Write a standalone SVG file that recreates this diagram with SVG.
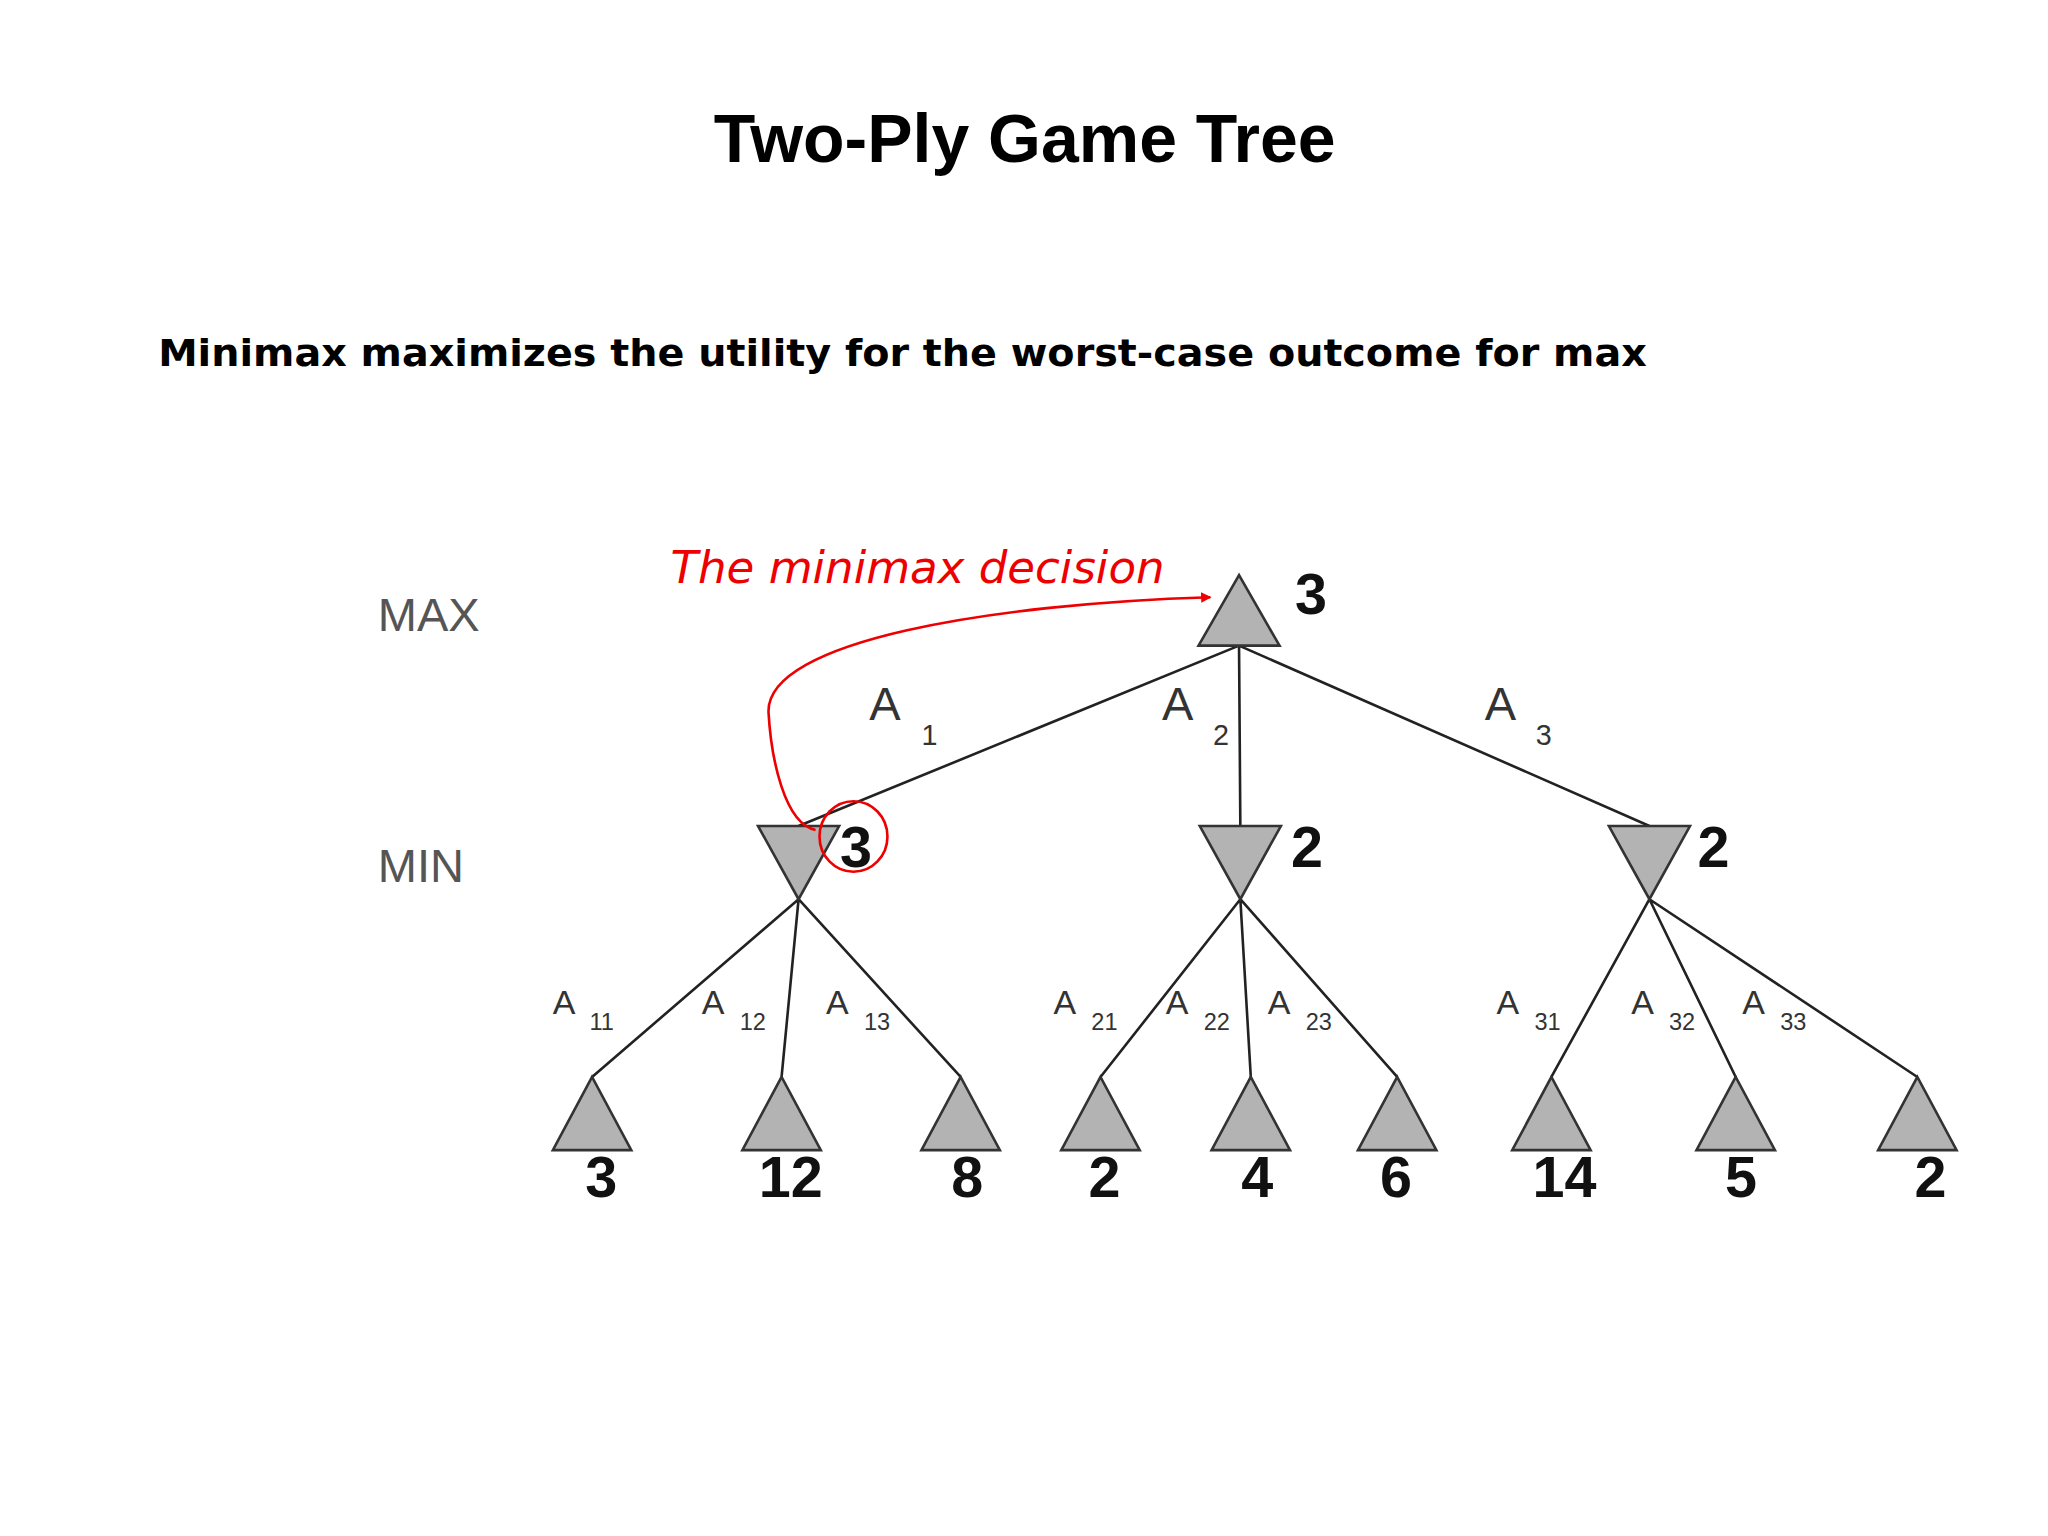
<svg xmlns="http://www.w3.org/2000/svg" width="2048" height="1536" viewBox="0 0 2048 1536">
<style>
.tri{fill:#b3b3b3;stroke:#333;stroke-width:2}
.edge{stroke:#222;stroke-width:2;fill:none}
.lab{font-family:"Liberation Sans",Arial,sans-serif;fill:#333}
.val{font-family:"Liberation Sans",Arial,sans-serif;font-weight:bold;fill:#111;font-size:44px;text-anchor:middle}
.side{font-family:"Liberation Sans",Arial,sans-serif;fill:#555;font-size:36px}
</style>
<defs><marker id="ah" markerWidth="8" markerHeight="8" refX="7" refY="4" orient="auto" markerUnits="userSpaceOnUse"><path d="M0,0 L8,4 L0,8 z" fill="#e00"/></marker></defs>
<rect width="2048" height="1536" fill="#fff"/>
<g transform="scale(1.307)">
<text x="784" y="124" text-anchor="middle" font-family="Liberation Sans,Arial,sans-serif" font-weight="bold" font-size="52" fill="#000">Two-Ply Game Tree</text>
<text x="121" y="280" font-family="DejaVu Sans,Verdana,sans-serif" font-weight="bold" font-size="29" fill="#000" textLength="1139" lengthAdjust="spacingAndGlyphs">Minimax maximizes the utility for the worst-case outcome for max</text>
<text class="side" x="289" y="483">MAX</text>
<text class="side" x="289" y="675">MIN</text>
<g id="connectors">
<path class="edge" d="M948 494 L611 632 M948 494 L949 632 M948 494 L1262 632"/>
<path class="edge" d="M611 688 L453 824 M611 688 L598 824 M611 688 L735 824"/>
<path class="edge" d="M949 688 L842 824 M949 688 L957 824 M949 688 L1069 824"/>
<path class="edge" d="M1262 688 L1187 824 M1262 688 L1328 824 M1262 688 L1467 824"/>
</g>
<g id="root"><polygon class="tri" points="948,440 917,494 979,494"/><text class="val" x="1003" y="470">3</text></g>
<g id="min1"><polygon class="tri" points="580,632 642,632 611,688"/><text class="val" x="655" y="663">3</text></g>
<g id="min2"><polygon class="tri" points="918,632 980,632 949,688"/><text class="val" x="1000" y="663">2</text></g>
<g id="min3"><polygon class="tri" points="1231,632 1293,632 1262,688"/><text class="val" x="1311" y="663">2</text></g>
<g id="leaf1"><polygon class="tri" points="453,824 423,880 483,880"/><text class="val" x="460" y="916">3</text></g>
<g id="leaf2"><polygon class="tri" points="598,824 568,880 628,880"/><text class="val" x="605" y="916">12</text></g>
<g id="leaf3"><polygon class="tri" points="735,824 705,880 765,880"/><text class="val" x="740" y="916">8</text></g>
<g id="leaf4"><polygon class="tri" points="842,824 812,880 872,880"/><text class="val" x="845" y="916">2</text></g>
<g id="leaf5"><polygon class="tri" points="957,824 927,880 987,880"/><text class="val" x="962" y="916">4</text></g>
<g id="leaf6"><polygon class="tri" points="1069,824 1039,880 1099,880"/><text class="val" x="1068" y="916">6</text></g>
<g id="leaf7"><polygon class="tri" points="1187,824 1157,880 1217,880"/><text class="val" x="1197" y="916">14</text></g>
<g id="leaf8"><polygon class="tri" points="1328,824 1298,880 1358,880"/><text class="val" x="1332" y="916">5</text></g>
<g id="leaf9"><polygon class="tri" points="1467,824 1437,880 1497,880"/><text class="val" x="1477" y="916">2</text></g>
<g class="lab" font-size="36">
<text x="665" y="551">A</text><text x="705" y="570" font-size="22">1</text>
<text x="889" y="551">A</text><text x="928" y="570" font-size="22">2</text>
<text x="1136" y="551">A</text><text x="1175" y="570" font-size="22">3</text>
</g>
<g class="lab" font-size="26">
<text x="423" y="776">A</text><text x="451" y="788" font-size="18">11</text>
<text x="537" y="776">A</text><text x="566" y="788" font-size="18">12</text>
<text x="632" y="776">A</text><text x="661" y="788" font-size="18">13</text>
<text x="806" y="776">A</text><text x="835" y="788" font-size="18">21</text>
<text x="892" y="776">A</text><text x="921" y="788" font-size="18">22</text>
<text x="970" y="776">A</text><text x="999" y="788" font-size="18">23</text>
<text x="1145" y="776">A</text><text x="1174" y="788" font-size="18">31</text>
<text x="1248" y="776">A</text><text x="1277" y="788" font-size="18">32</text>
<text x="1333" y="776">A</text><text x="1362" y="788" font-size="18">33</text>
</g>
<g id="annotation">
<text x="513" y="446" font-family="DejaVu Sans,Verdana,sans-serif" font-style="italic" font-size="34.5" fill="#e00">The minimax decision</text>
<ellipse cx="653" cy="640" rx="26" ry="27" fill="none" stroke="#e00" stroke-width="2"/>
<path d="M624 635 C600 630 590 580 588 545 C586 490 760 462 926 457" fill="none" stroke="#e00" stroke-width="2" marker-end="url(#ah)"/>
</g>
</g>
</svg>
